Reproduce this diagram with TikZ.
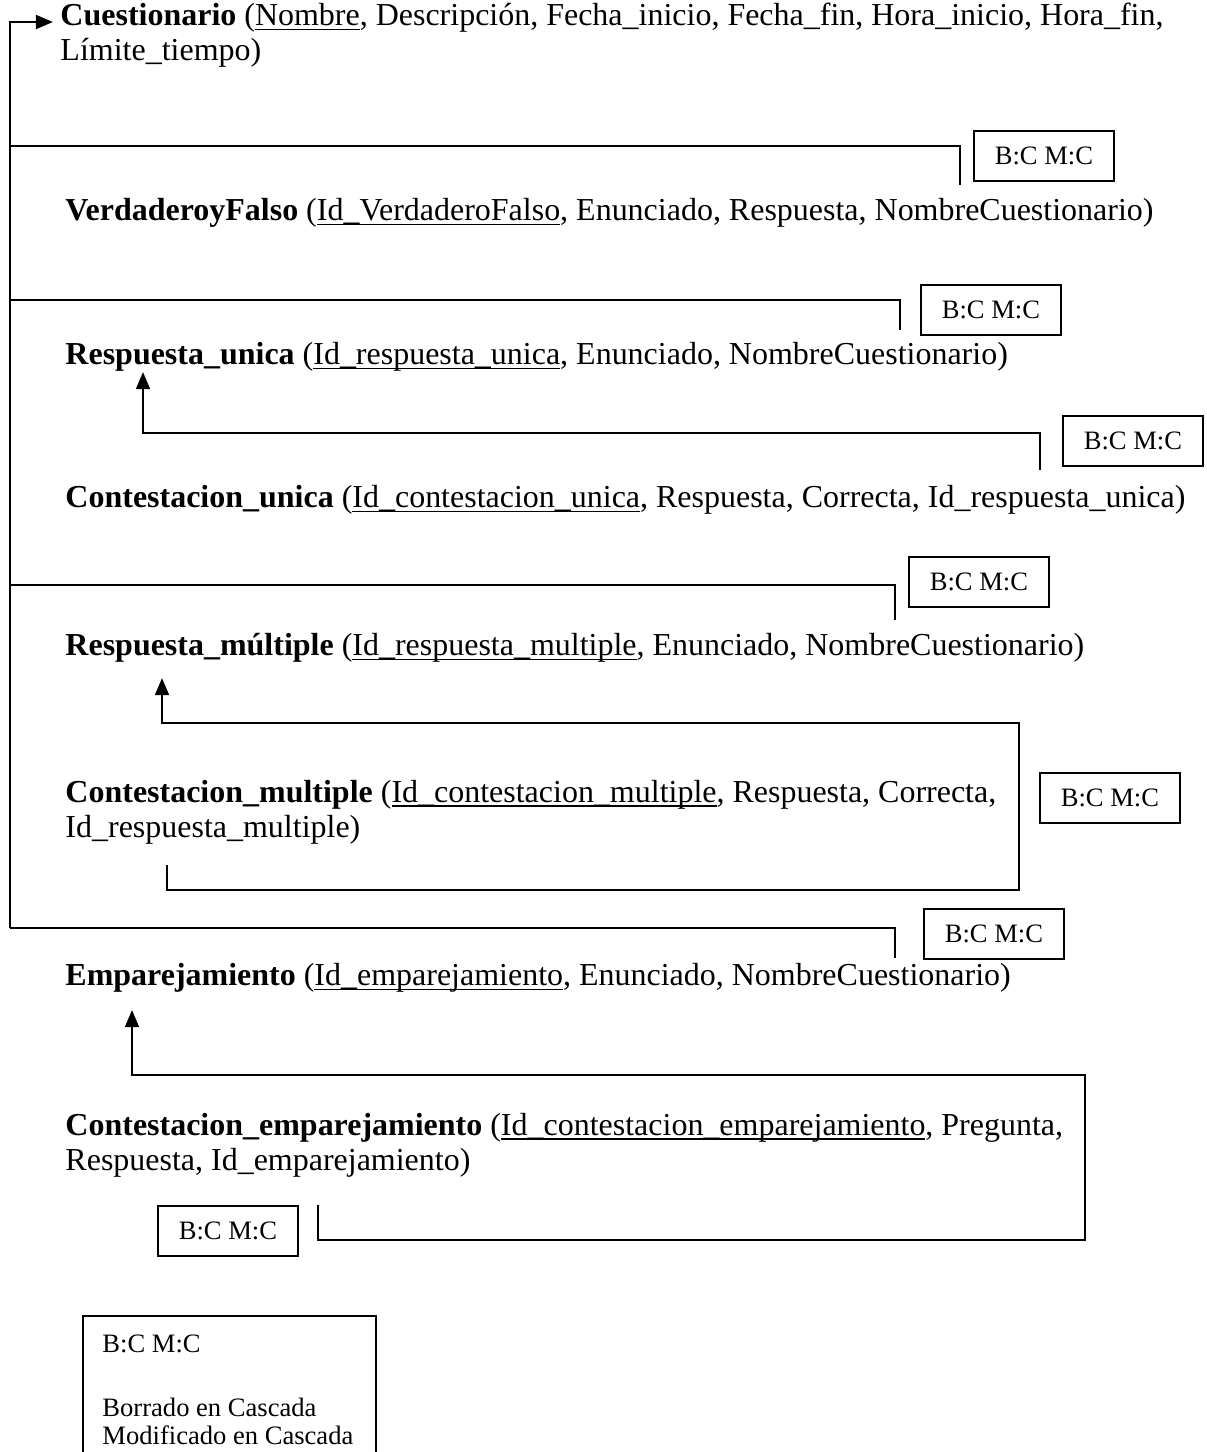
\documentclass[tikz,border=0pt]{standalone}
\usepackage{fontspec}
\setmainfont{Liberation Serif}
\usetikzlibrary{positioning,arrows.meta}
\newdimen\px \px=0.4065pt
\tikzset{
  rel/.style ={anchor=west, align=left, inner sep=0pt, font=\fontsize{13}{14.2}\selectfont},
  bcm/.style ={draw, line width=0.75pt, anchor=north west, minimum width=140\px,
               minimum height=50\px, inner sep=0pt, font=\fontsize{10.8}{13}\selectfont},
  leg/.style ={anchor=west, inner sep=0pt, font=\fontsize{10.8}{13}\selectfont},
  fk/.style  ={-{Triangle[length=7pt,width=5.6pt]}, line width=1.1pt},
  ln/.style  ={line width=0.75pt},
}
\newsavebox{\pkbox}
\newcommand{\pk}[1]{\sbox{\pkbox}{#1}\rlap{\vrule height -1.3pt depth 1.9pt width \wd\pkbox}\usebox{\pkbox}}

\begin{document}
\begin{tikzpicture}[x=\px, y=-\px]
  \clip (0,0) rectangle (1206,1452);

  % relaciones
  \node[rel] (cu) at (60,35) {\textbf{Cuestionario} (\pk{Nombre}, Descripción, Fecha\_inicio, Fecha\_fin, Hora\_inicio, Hora\_fin,\\ Límite\_tiempo)};
  \node[rel] (vf) at (65,213) {\textbf{VerdaderoyFalso} (\pk{Id\_VerdaderoFalso}, Enunciado, Respuesta, NombreCuestionario)};
  \node[rel] (ru) at (65,357) {\textbf{Respuesta\_unica} (\pk{Id\_respuesta\_unica}, Enunciado, NombreCuestionario)};
  \node[rel] (cun) at (65,500) {\textbf{Contestacion\_unica} (\pk{Id\_contestacion\_unica}, Respuesta, Correcta, Id\_respuesta\_unica)};
  \node[rel] (rm) at (65,648) {\textbf{Respuesta\_múltiple} (\pk{Id\_respuesta\_multiple}, Enunciado, NombreCuestionario)};
  \node[rel] (cm) at (65,812) {\textbf{Contestacion\_multiple} (\pk{Id\_contestacion\_multiple}, Respuesta, Correcta,\\ Id\_respuesta\_multiple)};
  \node[rel] (em) at (65,978) {\textbf{Emparejamiento} (\pk{Id\_emparejamiento}, Enunciado, NombreCuestionario)};
  \node[rel] (ce) at (65,1145) {\textbf{Contestacion\_emparejamiento} (\pk{Id\_contestacion\_emparejamiento}, Pregunta,\\ Respuesta, Id\_emparejamiento)};

  % puntos de las claves ajenas
  \coordinate (cuin) at (53,22);
  \coordinate (vffk) at (960,185);
  \coordinate (rufk) at (900,330);
  \coordinate (rmfk) at (895,620);
  \coordinate (emfk) at (895,958);
  \coordinate (cunfk) at (1040,470);
  \coordinate (ruin) at (143,372);
  \coordinate (cmfk) at (167,865);
  \coordinate (rmin) at (162,678);
  \coordinate (cefk) at (318,1205);
  \coordinate (emin) at (132,1010);

  % conectores a Cuestionario
  \draw[ln] (vffk) |- (10,146);
  \draw[ln] (rufk) |- (10,300);
  \draw[ln] (rmfk) |- (10,585);
  \draw[ln] (emfk) |- (10,928);
  \draw[fk] (10,928) |- (cuin);

  % conectores entre preguntas y contestaciones
  \draw[fk] (cunfk) |- (ruin |- 0,433) -- (ruin);
  \draw[fk] (cmfk) -- (167,890) -| (1019,723) -| (rmin);
  \draw[fk] (cefk) -- (318,1240) -| (1085,1075) -| (emin);

  % cajas B:C M:C
  \node[bcm] (b1) at (973,130) {B:C M:C};
  \node[bcm] (b2) at (920,284) {B:C M:C};
  \node[bcm] (b3) at (1062,415) {B:C M:C};
  \node[bcm] (b4) at (908,556) {B:C M:C};
  \node[bcm] (b5) at (1039,772) {B:C M:C};
  \node[bcm] (b6) at (923,908) {B:C M:C};
  \node[bcm] (b7) at (157,1205) {B:C M:C};

  % leyenda
  \node[draw, line width=0.75pt, anchor=north west, minimum width=293\px,
        minimum height=160\px] (leyenda) at (82,1315) {};
  \node[leg] (l1) at (102,1344) {B:C M:C};
  \node[leg] (l2) at (102,1407) {Borrado en Cascada};
  \node[leg] (l3) at (102,1435) {Modificado en Cascada};
\end{tikzpicture}
\end{document}
